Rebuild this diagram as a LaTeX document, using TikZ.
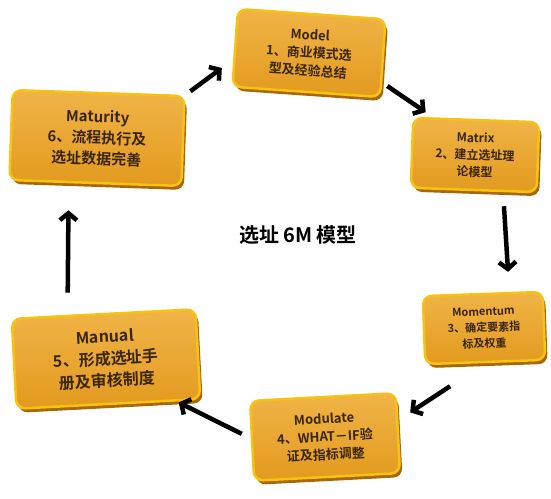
\documentclass[tikz,border=0pt]{standalone}
\usepackage{fontspec}
\newfontfamily\cjk{Noto Sans CJK SC}[BoldFont={* Bold}]
\usetikzlibrary{arrows.meta,shadows}
\definecolor{facetop}{HTML}{F0B447}
\definecolor{facebot}{HTML}{E39A1E}
\definecolor{rim}{HTML}{F6C214}
\definecolor{depth}{HTML}{A8680A}
\definecolor{ink}{HTML}{3A2608}
\tikzset{
  stage/.style={rounded corners=9pt, draw=rim, line width=2.5pt,
    top color=facetop, bottom color=facebot,
    drop shadow={fill=depth, opacity=1, shadow xshift=2.5pt, shadow yshift=-4pt},
    align=center, text=ink, inner sep=4pt},
  arr/.style={line width=4.5pt, -{Straight Barb[length=7pt,width=17pt]}, black}
}
\begin{document}
\begin{tikzpicture}[x=1pt,y=-1pt]
\useasboundingbox (0,0) rectangle (551,498);
\node[stage, minimum width=148pt, minimum height=78pt, rotate=-4,
  font=\cjk\bfseries\fontsize{13}{18}\selectfont] (model) at (309,53)
  {Model\\1、商业模式选\\型及经验总结};
\node[stage, minimum width=126pt, minimum height=70pt, rotate=-2,
  font=\cjk\bfseries\fontsize{12}{17}\selectfont] (matrix) at (475,155)
  {Matrix\\2、建立选址理\\论模型};
\node[stage, minimum width=120pt, minimum height=68pt, rotate=2,
  font=\cjk\bfseries\fontsize{11}{16}\selectfont] (momentum) at (484,328)
  {Momentum\\3、确定要素指\\标及权重};
\node[stage, minimum width=146pt, minimum height=80pt, rotate=3,
  font=\cjk\bfseries\fontsize{13}{18}\selectfont] (modulate) at (325,437)
  {Modulate\\4、WHAT－IF验\\证及指标调整};
\node[stage, minimum width=184pt, minimum height=90pt, rotate=3,
  font=\cjk\bfseries\fontsize{16}{22}\selectfont] (manual) at (106,359)
  {Manual\\5、形成选址手\\册及审核制度};
\node[stage, minimum width=172pt, minimum height=90pt, rotate=-2,
  font=\cjk\bfseries\fontsize{15}{21}\selectfont] (maturity) at (97,138)
  {Maturity\\6、流程执行及\\选址数据完善};
\node[font=\cjk\bfseries\fontsize{20}{24}\selectfont] (title) at (298,235) {选址 6M 模型};
\draw[arr, shorten <=6pt, shorten >=14pt] (maturity.28) -- (model.189);
\draw[arr, shorten <=6pt, shorten >=9pt] (model.-18) -- (matrix.140);
\draw[arr, shorten <=14pt, shorten >=20pt] (matrix.-51) -- (momentum.53);
\draw[arr, shorten <=42pt, shorten >=14pt] (momentum.south) -- (modulate.10);
\draw[arr, shorten <=10pt, shorten >=2pt] (modulate.178) -- (manual.-34);
\draw[arr, shorten <=22pt, shorten >=27pt] (manual.128) -- (maturity.240);
\end{tikzpicture}
\end{document}
